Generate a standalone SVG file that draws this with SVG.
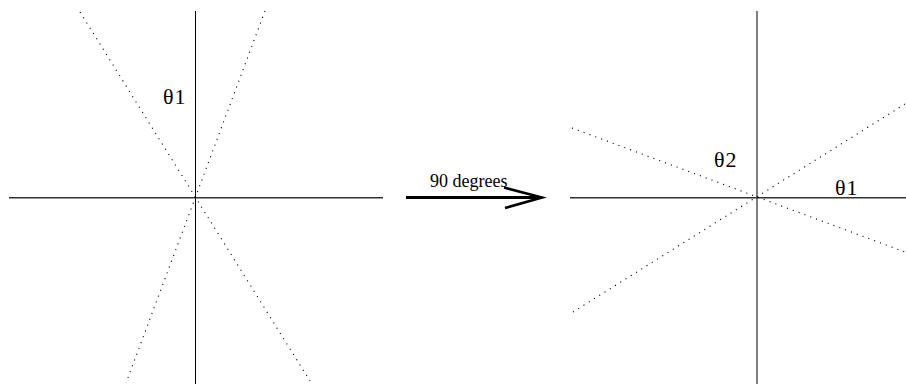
<svg xmlns="http://www.w3.org/2000/svg" width="906" height="386" viewBox="0 0 906 386">
<style>
.axis{stroke:#000;stroke-width:1;fill:none}
.hax{stroke:#333;stroke-width:1.4;fill:none}
.dot{stroke:#000;stroke-width:1.1;stroke-dasharray:1.1 5.1;fill:none}
.lbl{font-family:"Liberation Serif","Times New Roman",serif;fill:#000}
.th{font-size:22px;letter-spacing:1px}
</style>
<rect width="906" height="386" fill="#fff"/>
<g id="left-figure">
<line class="axis" x1="195.5" y1="11" x2="195.5" y2="384"/>
<line class="hax" x1="9" y1="197.8" x2="383" y2="197.8"/>
<line class="dot" x1="80" y1="12" x2="310" y2="381"/>
<line class="dot" x1="265" y1="11" x2="126" y2="383"/>
<text class="lbl th" x="163" y="103.5">θ1</text>
</g>
<g id="connectors">
<line x1="406" y1="197.5" x2="541" y2="197.5" stroke="#000" stroke-width="3"/>
<polyline points="504,187.5 542,197.5 505,208" fill="none" stroke="#000" stroke-width="2.6"/>
<text class="lbl" x="430" y="186.5" font-size="18">90 degrees</text>
</g>
<g id="right-figure">
<line class="axis" x1="757" y1="11" x2="757" y2="384"/>
<line class="hax" x1="570" y1="197.8" x2="906" y2="197.8"/>
<line class="dot" x1="572" y1="128" x2="905" y2="252"/>
<line class="dot" x1="573" y1="312" x2="905" y2="104"/>
<text class="lbl th" x="714" y="167">θ2</text>
<text class="lbl th" x="835" y="194.5">θ1</text>
</g>
</svg>
